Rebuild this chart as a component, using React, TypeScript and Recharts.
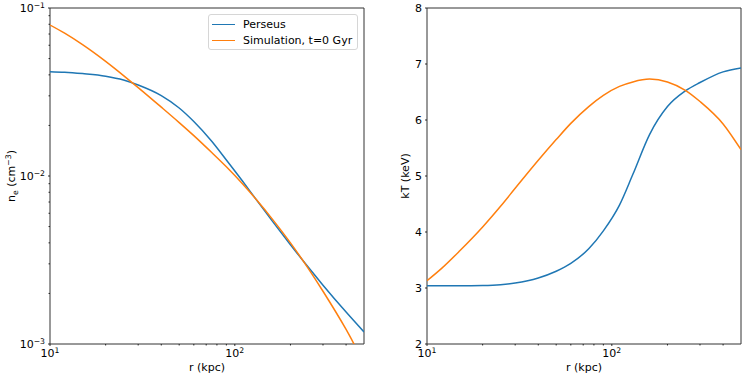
import React from 'react';
import { LineChart, Line, XAxis, YAxis, Legend, Label, ReferenceArea } from 'recharts';

const FONT = '"DejaVu Sans", sans-serif';
const BLUE = '#1f77b4';
const ORANGE = '#ff7f0e';

// radius grid (kpc), shared by both panels
const radius = [10, 12, 15, 20, 25, 30, 40, 50, 60, 75, 90, 110, 130, 160, 200, 250, 300, 400, 500];

// electron density n_e (cm^-3)
const perseusDensity = [0.0418, 0.0415, 0.0407, 0.0393, 0.0373, 0.0348, 0.0301, 0.0254, 0.0211, 0.0161, 0.01245,
  0.00933, 0.00728, 0.00537, 0.0039, 0.00286, 0.00224, 0.00155, 0.00118];
const simulationDensity = [0.0792, 0.0708, 0.0605, 0.0481, 0.0396, 0.0336, 0.0257, 0.0208, 0.0174, 0.0138, 0.01135,
  0.00899, 0.00729, 0.00552, 0.004, 0.00281, 0.00206, 0.00122, 0.00077];

// temperature kT (keV)
const perseusTemperature = [3.04, 3.04, 3.04, 3.045, 3.06, 3.09, 3.18, 3.3, 3.44, 3.7, 4.02, 4.48, 5.03, 5.74, 6.24,
  6.52, 6.67, 6.86, 6.93];
const simulationTemperature = [3.13, 3.35, 3.66, 4.09, 4.46, 4.78, 5.28, 5.65, 5.94, 6.24, 6.44, 6.6, 6.68, 6.73,
  6.68, 6.53, 6.33, 5.93, 5.47];

const xTicks = [10, 20, 30, 40, 50, 60, 70, 80, 90, 100, 200, 300, 400];
const densityTicks = [0.001, 0.002, 0.003, 0.004, 0.005, 0.006, 0.007, 0.008, 0.009,
  0.01, 0.02, 0.03, 0.04, 0.05, 0.06, 0.07, 0.08, 0.09, 0.1];
const temperatureTicks = [2, 3, 4, 5, 6, 7, 8];

const densityRows = radius.map((r, i) => ({ r, perseus: perseusDensity[i], sim: simulationDensity[i] }));
const temperatureRows = radius.map((r, i) => ({ r, perseus: perseusTemperature[i], sim: simulationTemperature[i] }));

const exponentOf = (v: number) => {
  const l = Math.log10(v);
  const e = Math.round(l);
  return Math.abs(l - e) < 1e-6 ? e : null;
};
const fmtExp = (e: number) => (e < 0 ? '\u2212' + Math.abs(e) : String(e));

const LogXTick = (props: any) => {
  const { x, y, payload } = props;
  const e = exponentOf(payload.value);
  return (
    <g>
      <line x1={x} x2={x} y1={y} y2={y + (e !== null ? 2 : 1.5)} stroke="#000" strokeWidth={0.8} />
      {e !== null && (
        <text x={x} y={y + 13.3} textAnchor="middle" fontSize={11} fontFamily={FONT} fill="#000">
          10<tspan dy={-4.5} fontSize={7.7}>{fmtExp(e)}</tspan>
        </text>
      )}
    </g>
  );
};

const LogYTick = (props: any) => {
  const { x, y, payload } = props;
  const e = exponentOf(payload.value);
  return (
    <g>
      <line x1={x} x2={x - (e !== null ? 2 : 1.5)} y1={y} y2={y} stroke="#000" strokeWidth={0.8} />
      {e !== null && (
        <text x={x - 5} y={y + 4.3} textAnchor="end" fontSize={11} fontFamily={FONT} fill="#000">
          10<tspan dy={-4.5} fontSize={7.7}>{fmtExp(e)}</tspan>
        </text>
      )}
    </g>
  );
};

const LinYTick = (props: any) => {
  const { x, y, payload } = props;
  return (
    <g>
      <line x1={x} x2={x - 2} y1={y} y2={y} stroke="#000" strokeWidth={0.8} />
      <text x={x - 5} y={y + 4} textAnchor="end" fontSize={11} fontFamily={FONT} fill="#000">
        {payload.value}
      </text>
    </g>
  );
};

const xLabel = (props: any) => {
  const { x, y, width } = props.viewBox;
  return (
    <text x={x + width / 2} y={y + 26.5} textAnchor="middle" fontSize={11} fontFamily={FONT} fill="#000">
      r (kpc)
    </text>
  );
};

const densityLabel = (props: any) => {
  const { x, y, height } = props.viewBox;
  const cx = x + 15;
  const cy = y + height / 2;
  return (
    <text x={cx} y={cy} transform={`rotate(-90 ${cx} ${cy})`} textAnchor="middle" fontSize={11} fontFamily={FONT} fill="#000">
      n<tspan dy={2.5} fontSize={7.7}>e</tspan>
      <tspan dy={-2.5}> (cm</tspan>
      <tspan dy={-4.5} fontSize={7.7}>{'\u22123'}</tspan>
      <tspan dy={4.5}>)</tspan>
    </text>
  );
};

const temperatureLabel = (props: any) => {
  const { x, y, height } = props.viewBox;
  const cx = x + 29;
  const cy = y + height / 2;
  return (
    <text x={cx} y={cy} transform={`rotate(-90 ${cx} ${cy})`} textAnchor="middle" fontSize={11} fontFamily={FONT} fill="#000">
      kT (keV)
    </text>
  );
};

const renderLegend = (props: any) => {
  const { payload } = props;
  return (
    <div
      style={{
        width: 150, height: 36, boxSizing: 'border-box', border: '1px solid #d6d6d6', borderRadius: 3,
        background: 'rgba(255,255,255,0.8)', fontFamily: FONT, fontSize: 11, color: '#000', padding: '1px 0 0 3px',
      }}
    >
      {payload.map((entry: any) => (
        <div key={entry.value} style={{ display: 'flex', alignItems: 'center', height: 16, whiteSpace: 'nowrap' }}>
          <span style={{ display: 'inline-block', width: 23, height: 0, borderTop: `1.5px solid ${entry.color}` }} />
          <span style={{ marginLeft: 8 }}>{entry.value}</span>
        </div>
      ))}
    </div>
  );
};

export default function App() {
  return (
    <div style={{ position: 'absolute', left: 0, top: 0, width: 747, height: 378, background: '#fff' }}>
      <div style={{ position: 'absolute', left: 0, top: 0 }}>
        <LineChart width={380} height={378} margin={{ top: 8, right: 16, bottom: 0, left: 0 }}>
          <XAxis
            dataKey="r" type="number" scale="log" domain={[10, 500]} allowDataOverflow ticks={xTicks}
            interval={0} tick={<LogXTick />} tickSize={0} tickMargin={0} tickLine={false} axisLine={false} height={34}
          >
            <Label content={xLabel} />
          </XAxis>
          <YAxis
            type="number" scale="log" domain={[0.001, 0.1]} allowDataOverflow ticks={densityTicks}
            interval={0} tick={<LogYTick />} tickSize={0} tickMargin={0} tickLine={false} axisLine={false} width={50}
          >
            <Label content={densityLabel} />
          </YAxis>
          <Line data={densityRows} dataKey="perseus" name="Perseus" type="monotone" stroke={BLUE} strokeWidth={1.5}
            dot={false} isAnimationActive={false} />
          <Line data={densityRows} dataKey="sim" name="Simulation, t=0 Gyr" type="monotone" stroke={ORANGE}
            strokeWidth={1.5} dot={false} isAnimationActive={false} />
          <ReferenceArea x1={10} x2={500} y1={0.001} y2={0.1} fill="none" stroke="#333" strokeWidth={1} />
          <Legend
            content={renderLegend} layout="horizontal" verticalAlign="middle" align="center" width={150}
            wrapperStyle={{ top: 14, left: 208, width: 150 }}
          />
        </LineChart>
      </div>
      <div style={{ position: 'absolute', left: 380, top: 0 }}>
        <LineChart width={367} height={378} margin={{ top: 8, right: 6, bottom: 0, left: 0 }}>
          <XAxis
            dataKey="r" type="number" scale="log" domain={[10, 500]} allowDataOverflow ticks={xTicks}
            interval={0} tick={<LogXTick />} tickSize={0} tickMargin={0} tickLine={false} axisLine={false} height={34}
          >
            <Label content={xLabel} />
          </XAxis>
          <YAxis
            type="number" domain={[2, 8]} allowDataOverflow ticks={temperatureTicks}
            interval={0} tick={<LinYTick />} tickSize={0} tickMargin={0} tickLine={false} axisLine={false} width={47}
          >
            <Label content={temperatureLabel} />
          </YAxis>
          <Line data={temperatureRows} dataKey="perseus" name="Perseus" type="monotone" stroke={BLUE}
            strokeWidth={1.5} dot={false} isAnimationActive={false} />
          <Line data={temperatureRows} dataKey="sim" name="Simulation, t=0 Gyr" type="monotone" stroke={ORANGE}
            strokeWidth={1.5} dot={false} isAnimationActive={false} />
          <ReferenceArea x1={10} x2={500} y1={2} y2={8} fill="none" stroke="#333" strokeWidth={1} />
        </LineChart>
      </div>
    </div>
  );
}
